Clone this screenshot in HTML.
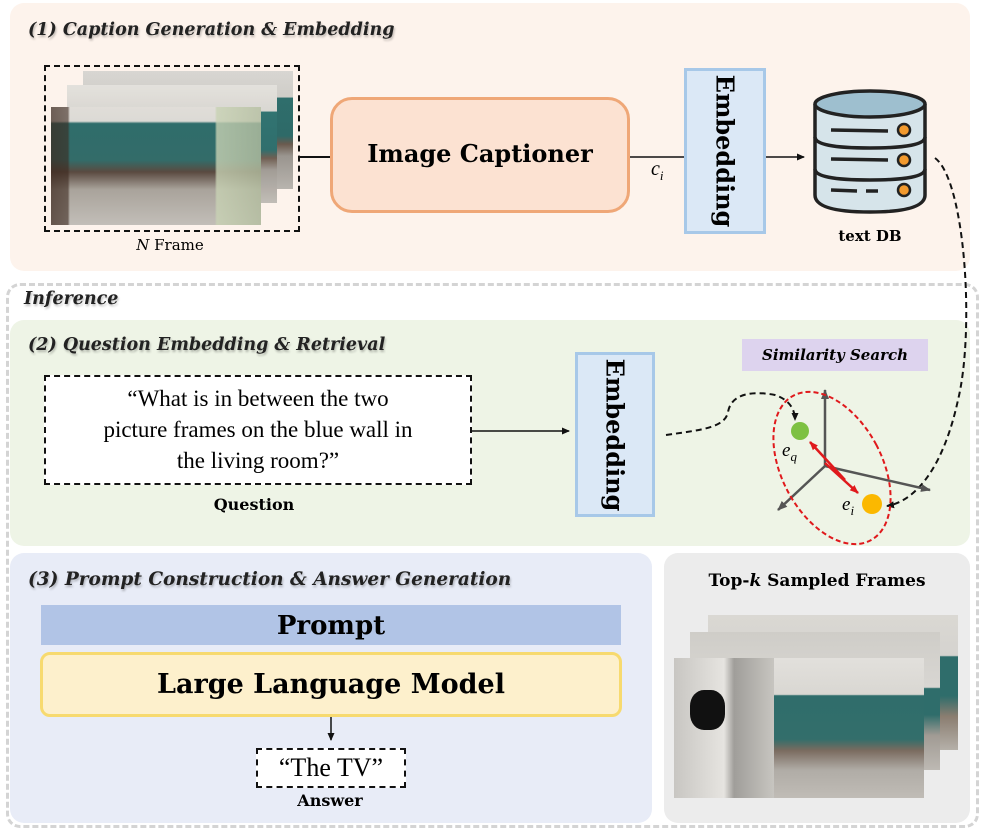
<!DOCTYPE html>
<html><head><meta charset="utf-8"><style>
body{margin:0;width:983px;height:832px;background:#fff;position:relative;overflow:hidden;font-family:"DejaVu Serif","Liberation Serif",serif;}
div{position:absolute;box-sizing:border-box}
.t{font-style:italic;font-weight:bold;font-size:17.5px;color:#222;text-shadow:1px 2px 2px rgba(0,0,0,.25);white-space:nowrap}
.c{text-align:center;white-space:nowrap}
.photo{background:linear-gradient(180deg,#d8d6d2 0%,#cfcdc8 22%,#2f6e6c 23%,#2e6a68 55%,#6b5a4e 62%,#9a958f 72%,#b8b4ae 100%);}
.emb{background:#dbe8f6;border:3px solid #a7c8e8;}
.emb span{position:absolute;left:50%;top:50%;transform:translate(-50%,-50%) rotate(90deg);font-family:"DejaVu Serif",serif;font-size:24px;font-weight:bold;white-space:nowrap}
</style></head><body>
<!-- Panel 1 -->
<div style="left:10px;top:3px;width:960px;height:268px;background:#fdf3ec;border-radius:14px"></div>
<div class="t" style="left:28px;top:20px">(1) Caption Generation &amp; Embedding</div>
<div class="photo" style="left:83px;top:71px;width:210px;height:118px"></div>
<div class="photo" style="left:67px;top:85px;width:210px;height:118px;filter:brightness(1.05)"></div>
<div class="photo" style="left:51px;top:107px;width:210px;height:118px;background:linear-gradient(90deg,rgba(60,40,30,.7) 0%,rgba(60,40,30,.6) 8%,transparent 9%,transparent 78%,rgba(200,210,180,.8) 79%,rgba(180,190,160,.8) 100%),linear-gradient(180deg,#e0ddd8 0%,#dcdad5 12%,#2f6d6b 14%,#336c69 45%,#5a4a40 55%,#a9a39b 70%,#c2beb8 100%)"></div>
<div style="left:44px;top:65px;width:256px;height:167px;border:2px dashed #111"></div>
<div class="c" style="left:100px;top:236px;width:140px;font-size:15px"><i>N</i> Frame</div>
<div style="left:330px;top:97px;width:300px;height:116px;background:#fce2d2;border:3px solid #efa777;border-radius:22px"></div>
<div class="c" style="left:330px;top:139px;width:300px;font-size:24px;font-weight:bold">Image Captioner</div>
<div style="left:651px;top:158px;font-size:20px;font-style:italic;font-family:'Liberation Serif',serif">c<sub style="font-size:13px">i</sub></div>
<div class="emb" style="left:684px;top:68px;width:82px;height:166px"><span>Embedding</span></div>
<div class="c" style="left:820px;top:227px;width:100px;font-size:15px;font-weight:bold">text DB</div>

<!-- Inference -->
<div style="left:6px;top:283px;width:973px;height:545px;border:3px dashed #d4d4d4;border-radius:14px"></div>
<div class="t" style="left:24px;top:289px">Inference</div>

<!-- Panel 2 -->
<div style="left:10px;top:320px;width:960px;height:226px;background:#eef4e6;border-radius:14px"></div>
<div class="t" style="left:28px;top:335px">(2) Question Embedding &amp; Retrieval</div>
<div style="left:44px;top:375px;width:428px;height:110px;border:2px dashed #111;background:#fff"></div>
<div class="c" style="left:44px;top:383px;width:428px;font-size:23px;line-height:31px;font-family:'Liberation Serif',serif">“What is in between the two<br>picture frames on the blue wall in<br>the living room?”</div>
<div class="c" style="left:204px;top:495px;width:100px;font-size:16px;font-weight:bold">Question</div>
<div class="emb" style="left:575px;top:352px;width:80px;height:165px"><span>Embedding</span></div>
<div class="c" style="left:742px;top:339px;width:186px;height:32px;background:#ddd3ee;font-size:15px;font-style:italic;font-weight:bold;line-height:32px">Similarity Search</div>

<!-- Panel 3 -->
<div style="left:10px;top:553px;width:642px;height:270px;background:#e8ecf7;border-radius:14px"></div>
<div class="t" style="left:28px;top:569px;font-size:18.5px">(3) Prompt Construction &amp; Answer Generation</div>
<div class="c" style="left:41px;top:605px;width:580px;height:40px;background:#b1c4e6;font-size:26px;font-weight:bold;line-height:42px">Prompt</div>
<div class="c" style="left:40px;top:652px;width:582px;height:65px;background:#fdf0cc;border:3px solid #f7da6f;border-radius:10px;font-size:27px;font-weight:bold;line-height:60px">Large Language Model</div>
<div class="c" style="left:256px;top:748px;width:150px;height:40px;border:2px dashed #111;background:#fff;font-size:26px;line-height:36px;font-family:'Liberation Serif',serif">“The TV”</div>
<div class="c" style="left:280px;top:791px;width:100px;font-size:16px;font-weight:bold">Answer</div>

<!-- Panel 4 -->
<div style="left:664px;top:553px;width:306px;height:270px;background:#ececec;border-radius:14px"></div>
<div class="c" style="left:664px;top:571px;width:306px;font-size:17px;font-weight:bold">Top-<i>k</i> Sampled Frames</div>
<div class="photo" style="left:708px;top:615px;width:250px;height:135px;background:linear-gradient(180deg,#dad8d3 0%,#d5d3cf 30%,#2f6d6b 31%,#2f6d6b 60%,#8a7d70 75%,#b5b0a9 100%)"></div>
<div class="photo" style="left:690px;top:632px;width:250px;height:138px;background:linear-gradient(180deg,#cfcdc8 0%,#d8d6d2 40%,#2f6d6b 41%,#2f6d6b 60%,#a19b94 75%,#bdb9b3 100%)"></div>
<div style="left:674px;top:658px;width:250px;height:140px;background:linear-gradient(90deg,#c8c6c2 0%,#e6e4e0 20%,#a09e9a 24%,#c7c5c0 40%,transparent 40%),linear-gradient(180deg,#e2e0dc 0%,#d9d7d2 26%,#2f6d6b 27%,#336e6b 58%,#7a6b5f 66%,#b0aca6 80%,#c0bcb6 100%)"></div>
<div style="left:690px;top:690px;width:35px;height:40px;background:#111;border-radius:40%"></div>

<svg width="983" height="832" style="position:absolute;left:0;top:0">
<defs>
<marker id="a" markerWidth="8" markerHeight="8" refX="7" refY="4" orient="auto" markerUnits="userSpaceOnUse"><path d="M0,0.5 L8,4 L0,7.5 z" fill="#111"/></marker>
<marker id="g" markerWidth="10" markerHeight="10" refX="9" refY="5" orient="auto" markerUnits="userSpaceOnUse"><path d="M0,1 L10,5 L0,9 z" fill="#555"/></marker>
<marker id="r" markerWidth="9" markerHeight="9" refX="8" refY="4.5" orient="auto" markerUnits="userSpaceOnUse"><path d="M0,1 L9,4.5 L0,8 z" fill="#e0191c"/></marker>
</defs>
<line x1="300" y1="157" x2="330" y2="157" stroke="#111" stroke-width="2"/>
<line x1="630" y1="157" x2="684" y2="157" stroke="#111" stroke-width="1.5"/>
<line x1="766" y1="157" x2="804" y2="157" stroke="#111" stroke-width="1.5" marker-end="url(#a)"/>
<g stroke="#222" stroke-width="3.5" fill="#d6e4ea">
<path d="M815,104 L815,195 Q815,212 870,212 Q925,212 925,195 L925,104"/>
<ellipse cx="870" cy="104" rx="55" ry="13" fill="#9ebfcf"/>
<path d="M815,137 Q815,148 870,148 Q925,148 925,137" fill="none"/>
<path d="M815,169 Q815,180 870,180 Q925,180 925,169" fill="none"/>
<line x1="831" y1="130" x2="888" y2="131"/><line x1="831" y1="159" x2="888" y2="160"/><line x1="831" y1="190" x2="857" y2="191"/><line x1="866" y1="191" x2="878" y2="191"/>
</g>
<g fill="#f29a2e" stroke="#222" stroke-width="2.5"><circle cx="904" cy="130" r="6"/><circle cx="904" cy="160" r="6"/><circle cx="904" cy="190" r="6"/></g>
<path d="M935,158 C965,180 975,330 958,400 C945,460 920,500 887,506" fill="none" stroke="#111" stroke-width="2" stroke-dasharray="6,4" marker-end="url(#a)"/>
<line x1="472" y1="431" x2="569" y2="431" stroke="#111" stroke-width="1.5" marker-end="url(#a)"/>
<path d="M666,435 C700,430 725,428 728,412 C732,390 760,392 775,395 C790,400 795,410 795,420" fill="none" stroke="#111" stroke-width="2" stroke-dasharray="6,4" marker-end="url(#a)"/>
<g stroke="#555" stroke-width="2.5">
<line x1="825" y1="466" x2="825" y2="390" marker-end="url(#g)"/>
<line x1="825" y1="466" x2="930" y2="490" marker-end="url(#g)"/>
<line x1="825" y1="466" x2="778" y2="510" marker-end="url(#g)"/>
</g>
<ellipse cx="832" cy="468" rx="50" ry="82" transform="rotate(-28 832 468)" fill="none" stroke="#e0191c" stroke-width="2" stroke-dasharray="5,3"/>
<line x1="845" y1="480" x2="810" y2="442" stroke="#e0191c" stroke-width="2.5" marker-end="url(#r)"/>
<line x1="825" y1="463" x2="858" y2="493" stroke="#e0191c" stroke-width="2.5" marker-end="url(#r)"/>
<circle cx="800" cy="431" r="9" fill="#7dc142"/>
<circle cx="872" cy="504" r="10" fill="#fbb800"/>
<text x="782" y="456" font-family="Liberation Serif" font-style="italic" font-size="19">e<tspan font-size="13" dy="5">q</tspan></text>
<text x="842" y="510" font-family="Liberation Serif" font-style="italic" font-size="19">e<tspan font-size="13" dy="5">i</tspan></text>
<line x1="331" y1="717" x2="331" y2="740" stroke="#111" stroke-width="1.5" marker-end="url(#a)"/>
</svg>
</body></html>
